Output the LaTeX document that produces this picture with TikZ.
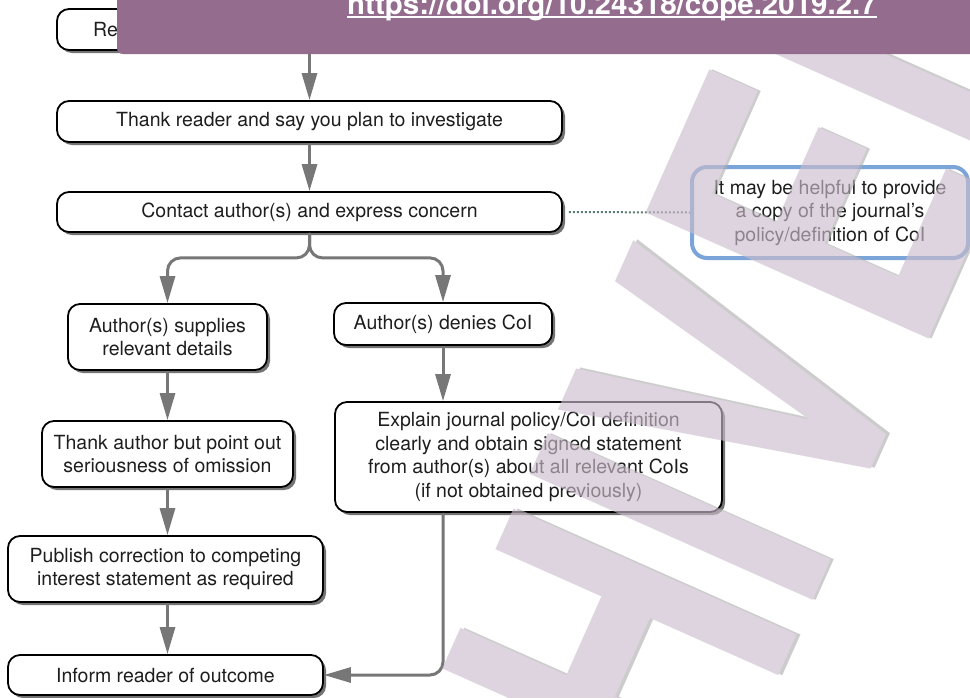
\documentclass[tikz,border=0pt]{standalone}
\usepackage{fontspec}
\setmainfont{TeX Gyre Heros}
\usetikzlibrary{arrows.meta,shadows}
\definecolor{bannercol}{HTML}{946D8E}
\definecolor{conncol}{HTML}{777777}
\definecolor{notecol}{HTML}{7BA4D8}
\definecolor{dotcol}{HTML}{5F7D75}
\definecolor{wmcol}{RGB}{203,189,205}
\definecolor{wmshadow}{RGB}{178,176,178}
\definecolor{txtcol}{HTML}{1E1E1E}
\begin{document}
\begin{tikzpicture}[x=1pt,y=-1pt,
  box/.style={draw=black, line width=1.8pt, rounded corners=12pt, fill=white,
    align=center, inner sep=0pt, text=txtcol, font=\fontsize{19.5}{23.5}\selectfont,
    drop shadow={shadow xshift=3pt, shadow yshift=-3pt, fill=black!55, opacity=1}},
  conn/.style={draw=conncol, line width=3pt, rounded corners=13pt,
    -{Triangle[length=27pt,width=15pt]}},
  notebox/.style={draw=notecol, line width=4pt, rounded corners=15pt, fill=white,
    align=center, inner sep=0pt, text=txtcol, font=\fontsize{19.5}{23.5}\selectfont},
  dotline/.style={draw=dotcol, line width=2pt, dotted, shorten <=6pt},
  wmark/.style={rotate=66, xscale=0.7, inner sep=0pt, font=\fontsize{425}{425}\selectfont\bfseries},
]
\useasboundingbox (0,0) rectangle (970,697);
\fill[white] (0,0) rectangle (970,697);

% boxes
\node[box, minimum width=505pt, minimum height=41pt] (b1) at (309.5,29.5) {};
\node[anchor=base west, inner sep=0pt, text=txtcol, font=\fontsize{19.5}{23.5}\selectfont] (b1t) at (93,36) {Re};
\node[box, minimum width=505pt, minimum height=41pt] (b2) at (309.5,121.5) {Thank reader and say you plan to investigate};
\node[box, minimum width=505pt, minimum height=40pt] (b3) at (309.5,212) {Contact author(s) and express concern};
\node[box, minimum width=199pt, minimum height=66pt] (b4) at (167.5,337) {Author(s) supplies\\relevant details};
\node[box, minimum width=251pt, minimum height=66pt] (b5) at (167.5,454) {Thank author but point out\\seriousness of omission};
\node[box, minimum width=315pt, minimum height=66pt] (b6) at (165.5,569) {Publish correction to competing\\interest statement as required};
\node[box, minimum width=315pt, minimum height=40pt] (b7) at (165.5,675) {Inform reader of outcome};
\node[box, minimum width=218pt, minimum height=42pt] (b8) at (443,324) {Author(s) denies CoI};
\node[box, minimum width=387pt, minimum height=110pt] (b9) at (528.5,457) {Explain journal policy/CoI definition\\clearly and obtain signed statement\\from author(s) about all relevant CoIs\\(if not obtained previously)};
\node[notebox, minimum width=276pt, minimum height=91pt] (note) at (830,212.5) {It may be helpful to provide\\a copy of the journal’s\\policy/definition of CoI};

% connectors
\draw[conn] (b1.south) -- (b2.north);
\draw[conn] (b2.south) -- (b3.north);
\draw[conn] (b3.south) -- ++(0,25) -| (b4.north);
\draw[conn] (b3.south) -- ++(0,25) -| (b8.north);
\draw[conn] (b4.south) -- (b5.north);
\draw[conn] (b5.south) -- (b6.north -| b5.south);
\draw[conn] (b6.south -| b5.south) -- (b7.north -| b5.south);
\draw[conn] (b8.south) -- (b8.south |- b9.north);
\draw[conn] (b9.south -| b8.south) |- (b7.east);
\draw[dotline] (b3.east) -- (note.west);

% watermark
\begin{scope}[transparency group, opacity=0.64]
  \node[wmark, text=wmshadow, xshift=3pt, yshift=-3pt] (wms) at (630,630) {ARCHIVED};
  \node[wmark, text=wmcol] (wm) at (630,630) {ARCHIVED};
\end{scope}

% banner
\fill[bannercol, rounded corners=6pt] (117,-10) rectangle (985,54);
\node[anchor=base, inner sep=0pt, text=white, font=\fontsize{29.5}{29.5}\selectfont\bfseries] (url) at (612,14) {https://doi.org/10.24318/cope.2019.2.7};
\draw[white, line width=2pt] ([yshift=-3pt]url.base west) -- ([yshift=-3pt]url.base east);
\end{tikzpicture}
\end{document}
